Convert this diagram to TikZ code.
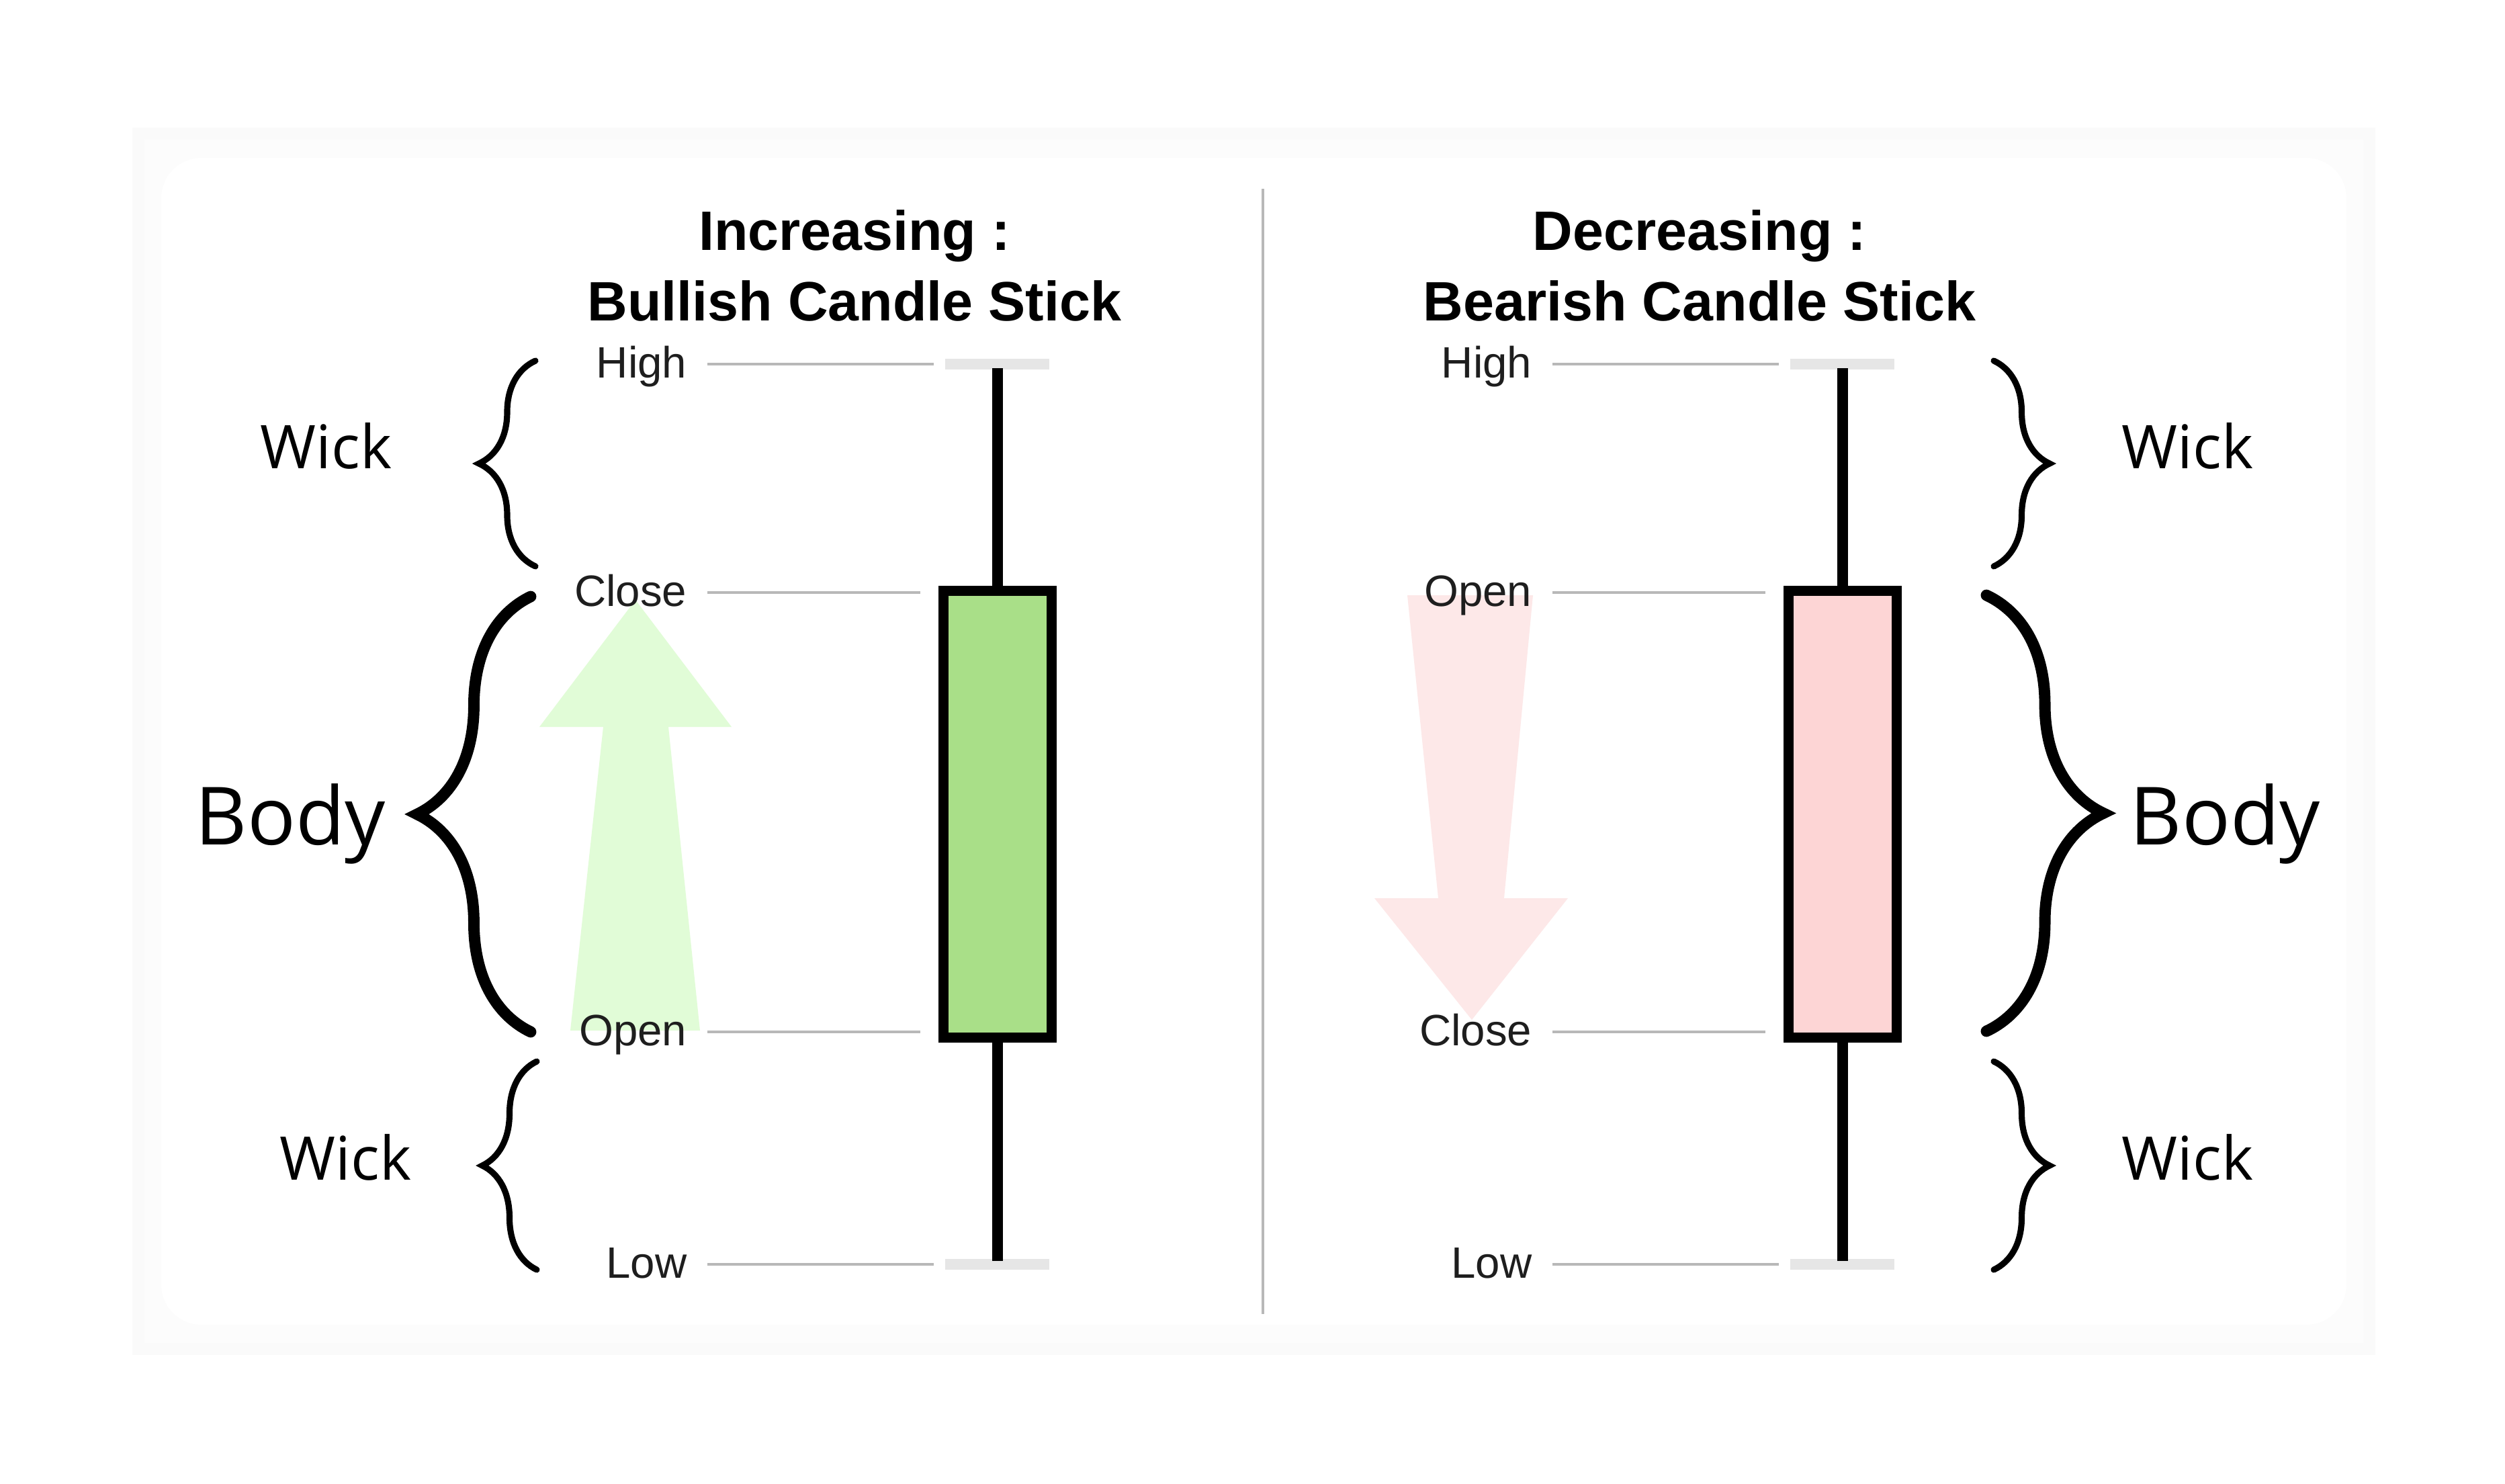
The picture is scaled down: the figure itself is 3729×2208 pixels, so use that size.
\documentclass[tikz,border=0pt]{standalone}
\usepackage{fontspec}
\setmainfont{Liberation Sans}
\newfontfamily\opensans{Open Sans}
\usetikzlibrary{decorations.pathreplacing,positioning}
\definecolor{bullfill}{HTML}{A9DF88}
\definecolor{bearfill}{HTML}{FDD5D5}
\definecolor{upfill}{HTML}{E1FCD7}
\definecolor{downfill}{HTML}{FDE8E8}
\definecolor{guide}{HTML}{B8B8B8}
\definecolor{tickgray}{HTML}{E6E6E6}
\definecolor{pricetext}{HTML}{1E1E1E}

\begin{document}
\begin{tikzpicture}
    [
        x=0.01cm, y=-0.01cm,
        title/.style={font=\bfseries\fontsize{23.5}{28}\selectfont, inner sep=0pt, anchor=base},
        price/.style={font=\fontsize{18.6}{22}\selectfont, text=pricetext, inner sep=0pt, anchor=base east},
        part/.style={font=\opensans\fontsize{25.5}{30}\selectfont, inner sep=0pt, anchor=base west},
        bigpart/.style={part, font=\opensans\fontsize{34}{40}\selectfont},
        guideline/.style={guide, line width=1.1pt},
        wick/.style={black, line width=4.3pt},
        candle/.style={draw=black, line width=4.3pt, inner sep=0pt, minimum width=1.61cm, minimum height=6.64cm},
        thinbrace/.style={decorate, decoration={brace, amplitude=#1}, line width=2.6pt, line cap=round},
        thickbrace/.style={decorate, decoration={brace, amplitude=#1}, line width=4.8pt, line cap=round}
    ]
    % panel
    \fill[white] (0,0) rectangle (3729,2208);
    \fill[black!2] (197,190) rectangle (3536,2017);
    \fill[black!1] (215,208) rectangle (3518,1999);
    \fill[white, rounded corners=0.6cm] (240,235) rectangle (3493,1972);
    \draw[guide, line width=1.1pt] (1880,281) -- (1880,1956);

    % direction arrows
    \fill[upfill] (849,1534) -- (898,1082) -- (803,1082) -- (946,893)
        -- (1089,1082) -- (995,1082) -- (1042,1534) -- cycle;
    \fill[downfill] (2095,886) -- (2282,886) -- (2239,1337) -- (2334,1337)
        -- (2191,1518) -- (2046,1337) -- (2141,1337) -- cycle;

    % titles
    \node[title] (bulltop) at (1272,372) {Increasing :};
    \node[title] (bullname) at (1272,477) {Bullish Candle Stick};
    \node[title] (beartop) at (2530,372) {Decreasing :};
    \node[title] (bearname) at (2530,477) {Bearish Candle Stick};

    % candles
    \foreach \cx/\tag/\col in {1485/bull/bullfill, 2743/bear/bearfill}
    {
        \coordinate (\tag high) at (\cx,548);
        \coordinate (\tag low) at (\cx,1877);
        \draw[tickgray, line width=4.3pt] (\cx-78,542) -- (\cx+77,542);
        \draw[tickgray, line width=4.3pt] (\cx-78,1882) -- (\cx+77,1882);
        \draw[wick] (\tag high) -- (\tag low);
        \node[candle, fill=\col] (\tag body) at (\cx,1212) {};
    }

    % price levels
    \foreach \lab/\y/\x in {High/542/1390, Close/882/1370, Open/1536/1370, Low/1882/1390}
    {
        \node[price] (L\lab) at (1023,\y+20) {\lab};
        \draw[guideline] (1053,\y) -- (\x,\y);
    }
    \foreach \lab/\y/\x in {High/542/2648, Open/882/2628, Close/1536/2628, Low/1882/2648}
    {
        \node[price] (R\lab) at (2281,\y+20) {\lab};
        \draw[guideline] (2311,\y) -- (\x,\y);
    }

    % braces
    \draw[thinbrace=0.84cm] (797,843) -- (797,537);
    \draw[thickbrace=1.69cm] (790,1536) -- (790,888);
    \draw[thinbrace=0.81cm] (799,1890) -- (799,1580);
    \draw[thinbrace=0.83cm] (2968,537) -- (2968,843);
    \draw[thickbrace=1.74cm] (2957,886) -- (2957,1535);
    \draw[thinbrace=0.83cm] (2968,1580) -- (2968,1890);

    \node[part] (lwicktop) at (387,697) {Wick};
    \node[bigpart] (lbody) at (290,1257) {Body};
    \node[part] (lwickbot) at (416,1756) {Wick};
    \node[part] (rwicktop) at (3158,697) {Wick};
    \node[bigpart] (rbody) at (3170,1257) {Body};
    \node[part] (rwickbot) at (3158,1756) {Wick};

    \pgfresetboundingbox
    \useasboundingbox (0,0) rectangle (3729,2208);
\end{tikzpicture}
\end{document}
